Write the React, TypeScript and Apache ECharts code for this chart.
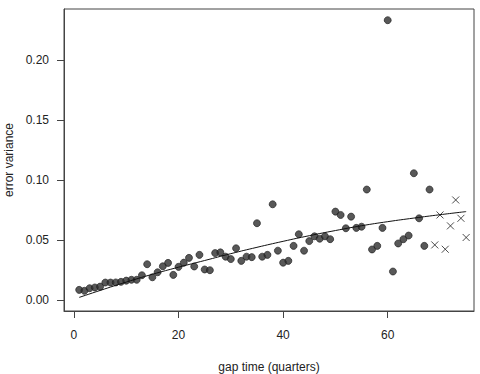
import React, { useEffect, useRef } from "react";
import * as echarts from "echarts";

// Observed (circles) error variances by gap time
const circleX = [
  1, 2, 3, 4, 5, 6, 7, 8, 9, 10, 11, 12, 13, 14, 15, 16, 17, 18, 19, 20,
  21, 22, 23, 24, 25, 26, 27, 28, 29, 30, 31, 32, 33, 34, 35, 36, 37, 38, 39, 40,
  41, 42, 43, 44, 45, 46, 47, 48, 49, 50, 51, 52, 53, 54, 55, 56, 57, 58, 59, 60,
  61, 62, 63, 64, 65, 66, 67, 68,
];
const circleY = [
  0.0083, 0.0075, 0.0097, 0.0103, 0.011, 0.0144, 0.0144, 0.0145, 0.015, 0.016,
  0.0167, 0.0167, 0.0205, 0.0297, 0.0188, 0.023, 0.028, 0.0308, 0.0208, 0.0275,
  0.031, 0.035, 0.0278, 0.0375, 0.0253, 0.0247, 0.039, 0.0396, 0.036, 0.034,
  0.043, 0.0325, 0.036, 0.0356, 0.0639, 0.036, 0.0375, 0.0797, 0.041, 0.031,
  0.0325, 0.045, 0.0547, 0.041, 0.049, 0.053, 0.051, 0.053, 0.0506, 0.0736,
  0.0708, 0.0597, 0.0694, 0.06, 0.061, 0.092, 0.042, 0.045, 0.06, 0.2333,
  0.0236, 0.047, 0.0506, 0.0536, 0.1056, 0.068, 0.045, 0.092,
];

// Crosses
const crossX = [69, 70, 71, 72, 73, 74, 75];
const crossY = [0.0458, 0.0708, 0.0422, 0.0617, 0.0833, 0.068, 0.052];

// Fitted curve
const curveX = [1, 5, 10, 15, 20, 25, 30, 35, 40, 45, 50, 55, 60, 65, 70, 75];
const curveY = [
  0.002, 0.0078, 0.0148, 0.0213, 0.0272, 0.0328, 0.0385, 0.0438, 0.0488, 0.0535,
  0.0578, 0.0618, 0.0652, 0.0682, 0.071, 0.0736,
];

const xTicks = [0, 20, 40, 60];
const yTicks = [0, 0.05, 0.1, 0.15, 0.2];

const FONT = "'Liberation Sans', Arial, Helvetica, sans-serif";
const TXT = "#222";

export default function App() {
  const ref = useRef<HTMLDivElement>(null);
  useEffect(() => {
    document.body.style.margin = "0";
    if (!ref.current) return;
    const chart = echarts.init(ref.current, null, { renderer: "svg" });
    chart.setOption({
      animation: false,
      backgroundColor: "#fff",
      grid: {
        left: 64,
        top: 9,
        width: 410,
        height: 302,
        outerBoundsMode: "none",
        containLabel: false,
        show: true,
        borderColor: "#444",
        borderWidth: 1,
        backgroundColor: "transparent",
      },
      xAxis: {
        type: "value",
        min: -1.9,
        max: 76.5,
        name: "gap time (quarters)",
        nameLocation: "middle",
        nameGap: 50,
        nameTextStyle: { fontFamily: FONT, fontSize: 12, color: TXT },
        axisLine: { show: true, onZero: false, lineStyle: { color: "#444" } },
        axisTick: {
          show: true,
          length: 7,
          customValues: xTicks,
          lineStyle: { color: "#444" },
        },
        axisLabel: {
          customValues: xTicks,
          margin: 18,
          fontFamily: FONT,
          fontSize: 12,
          color: TXT,
        },
        splitLine: { show: false },
      },
      yAxis: {
        type: "value",
        min: -0.00933,
        max: 0.24263,
        name: "error variance",
        nameLocation: "middle",
        nameGap: 40,
        nameTextStyle: { fontFamily: FONT, fontSize: 12, color: TXT },
        axisLine: { show: true, onZero: false, lineStyle: { color: "#444" } },
        axisTick: {
          show: true,
          length: 7,
          customValues: yTicks,
          lineStyle: { color: "#444" },
        },
        axisLabel: {
          customValues: yTicks,
          margin: 15,
          fontFamily: FONT,
          fontSize: 12,
          color: TXT,
          formatter: (v: number) => v.toFixed(2),
        },
        splitLine: { show: false },
      },
      series: [
        {
          type: "scatter",
          data: circleX.map((x, i) => [x, circleY[i]]),
          symbol: "circle",
          symbolSize: 7,
          itemStyle: { color: "#2e2e2e", borderColor: "#1a1a1a", borderWidth: 0.8 },
          z: 2,
        },
        {
          type: "scatter",
          data: crossX.map((x, i) => [x, crossY[i]]),
          symbol: "path://M0,0L10,10M10,0L0,10",
          symbolSize: 7,
          itemStyle: { color: "none", borderColor: "#222", borderWidth: 1 },
          z: 2,
        },
        {
          type: "line",
          data: curveX.map((x, i) => [x, curveY[i]]),
          smooth: true,
          showSymbol: false,
          symbol: "none",
          lineStyle: { color: "#111", width: 1 },
          z: 3,
        },
      ],
    });
    return () => chart.dispose();
  }, []);
  return <div ref={ref} style={{ width: 480, height: 374 }} />;
}
